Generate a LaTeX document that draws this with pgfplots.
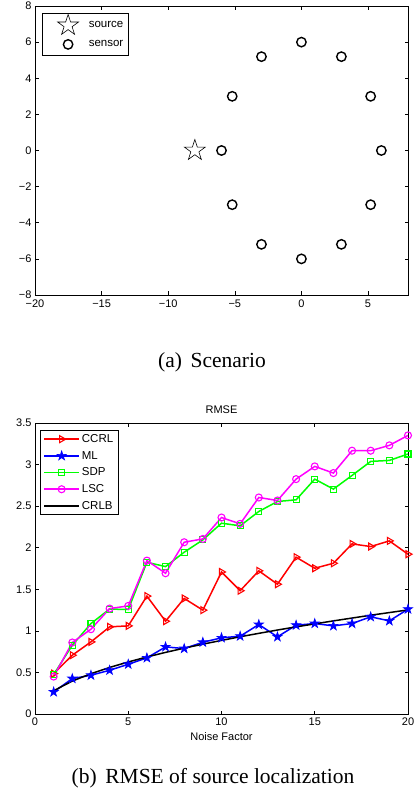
\documentclass[border=0pt]{standalone}
\usepackage{fontspec}
\setmainfont{Liberation Serif}
\setsansfont{Liberation Sans}
\usepackage{pgfplots}
\pgfplotsset{compat=1.18}

% MATLAB style pentagram, open and filled
\pgfdeclareplotmark{pentagram}{%
  \pgfpathmoveto{\pgfpointpolar{90}{\pgfplotmarksize}}%
  \pgfpathlineto{\pgfpointpolar{126}{0.382\pgfplotmarksize}}%
  \pgfpathlineto{\pgfpointpolar{162}{\pgfplotmarksize}}%
  \pgfpathlineto{\pgfpointpolar{198}{0.382\pgfplotmarksize}}%
  \pgfpathlineto{\pgfpointpolar{234}{\pgfplotmarksize}}%
  \pgfpathlineto{\pgfpointpolar{270}{0.382\pgfplotmarksize}}%
  \pgfpathlineto{\pgfpointpolar{306}{\pgfplotmarksize}}%
  \pgfpathlineto{\pgfpointpolar{342}{0.382\pgfplotmarksize}}%
  \pgfpathlineto{\pgfpointpolar{18}{\pgfplotmarksize}}%
  \pgfpathlineto{\pgfpointpolar{54}{0.382\pgfplotmarksize}}%
  \pgfpathclose
  \pgfusepathqstroke}
\pgfdeclareplotmark{pentagram*}{%
  \pgfpathmoveto{\pgfpointpolar{90}{\pgfplotmarksize}}%
  \pgfpathlineto{\pgfpointpolar{126}{0.382\pgfplotmarksize}}%
  \pgfpathlineto{\pgfpointpolar{162}{\pgfplotmarksize}}%
  \pgfpathlineto{\pgfpointpolar{198}{0.382\pgfplotmarksize}}%
  \pgfpathlineto{\pgfpointpolar{234}{\pgfplotmarksize}}%
  \pgfpathlineto{\pgfpointpolar{270}{0.382\pgfplotmarksize}}%
  \pgfpathlineto{\pgfpointpolar{306}{\pgfplotmarksize}}%
  \pgfpathlineto{\pgfpointpolar{342}{0.382\pgfplotmarksize}}%
  \pgfpathlineto{\pgfpointpolar{18}{\pgfplotmarksize}}%
  \pgfpathlineto{\pgfpointpolar{54}{0.382\pgfplotmarksize}}%
  \pgfpathclose
  \pgfusepathqfillstroke}

\definecolor{mred}{rgb}{1,0,0}
\definecolor{mblue}{rgb}{0,0,1}
\definecolor{mgreen}{rgb}{0,1,0}
\definecolor{mmag}{rgb}{1,0,1}

\pgfplotsset{
  matlab/.style={
    scale only axis,
    width=373pt,
    tick align=inside,
    major tick length=3.5pt,
    axis line style={line width=0.8pt},
    every tick/.style={black,line width=0.6pt},
    tick label style={font=\sffamily\fontsize{11}{13}\selectfont},
    label style={font=\sffamily\fontsize{11}{13}\selectfont},
    title style={font=\sffamily\fontsize{11}{13}\selectfont},
    legend style={font=\sffamily\fontsize{11.5}{13}\selectfont, draw=black, line width=0.8pt},
  }
}

\begin{document}
\begin{tikzpicture}
\useasboundingbox (0,0) rectangle (416pt,793pt);

% (a) scenario
\begin{axis}[matlab,
    at={(35pt,498pt)}, anchor=south west,
    height=289pt,
    xmin=-20, xmax=8, ymin=-8, ymax=8,
    xtick={-20,-15,-10,-5,0,5},
    xticklabels={−20,−15,−10,−5,0,5},
    xticklabel style={yshift=-1.5pt},
    ytick={-8,-6,-4,-2,0,2,4,6,8},
    yticklabels={−8,−6,−4,−2,0,2,4,6,8},
    legend style={at={(axis description cs:0,1)}, anchor=north west, xshift=7pt, yshift=-7pt,
      inner xsep=3pt, inner ysep=1pt, row sep=0pt},
    legend cell align=left,
    legend image code/.code={\draw[#1] plot coordinates {(22pt,0pt)}; \path (0pt,-9pt) (40pt,9pt);},
]
\addplot[only marks, mark=pentagram, mark size=11pt, line width=0.6pt, black] coordinates {(-8,0)};
\addlegendentry{source}
\addplot[only marks, mark=o, mark size=4.7pt, line width=1.4pt, black] coordinates {
  (6,0) (5.196,3) (3,5.196) (0,6) (-3,5.196) (-5.196,3)
  (-6,0) (-5.196,-3) (-3,-5.196) (0,-6) (3,-5.196) (5.196,-3)};
\addlegendentry{sensor}
\end{axis}
\node[font=\fontsize{21.5}{24}\selectfont] at (212pt,431pt) {(a)\hspace{0.4em}Scenario};

% (b) RMSE
\begin{axis}[matlab,
    at={(35pt,79pt)}, anchor=south west,
    height=291pt,
    xmin=0, xmax=20, ymin=0, ymax=3.5,
    xtick={0,5,10,15,20},
    xticklabels={0,5,10,15,20},
    ytick={0,0.5,1,1.5,2,2.5,3,3.5},
    yticklabels={0,0.5,1,1.5,2,2.5,3,3.5},
    title={RMSE},
    xlabel={Noise Factor},
    legend style={at={(axis description cs:0,1)}, anchor=north west, xshift=5pt, yshift=-7pt,
      inner xsep=3pt, inner ysep=2pt, row sep=3.2pt},
    legend cell align=left,
    legend image code/.code={\draw[mark repeat=2,mark phase=2,#1] plot coordinates {(0pt,0pt) (17.5pt,0pt) (35pt,0pt)};},
]
\addplot[mred, line width=1.5pt, mark=triangle, mark size=4pt, mark options={solid, rotate=-90, line width=1.1pt}] coordinates {
  (1,0.486) (2,0.707) (3,0.867) (4,1.048) (5,1.060) (6,1.418) (7,1.116)
  (8,1.390) (9,1.249) (10,1.708) (11,1.483) (12,1.722) (13,1.561) (14,1.886)
  (15,1.753) (16,1.813) (17,2.046) (18,2.014) (19,2.082) (20,1.922)};
\addlegendentry{CCRL}
\addplot[mblue, line width=1.5pt, mark=pentagram*, mark size=4.8pt, mark options={solid, fill=mblue, line width=0.7pt}] coordinates {
  (1,0.265) (2,0.426) (3,0.466) (4,0.526) (5,0.598) (6,0.675) (7,0.807)
  (8,0.787) (9,0.863) (10,0.916) (11,0.936) (12,1.076) (13,0.928) (14,1.068)
  (15,1.088) (16,1.060) (17,1.088) (18,1.169) (19,1.120) (20,1.261)};
\addlegendentry{ML}
\addplot[mgreen, line width=1.5pt, mark=square, mark size=3pt, mark options={solid, line width=1.1pt}] coordinates {
  (1,0.474) (2,0.827) (3,1.088) (4,1.262) (5,1.257) (6,1.825) (7,1.773)
  (8,1.946) (9,2.094) (10,2.295) (11,2.263) (12,2.436) (13,2.556) (14,2.576)
  (15,2.825) (16,2.705) (17,2.869) (18,3.038) (19,3.050) (20,3.127)};
\addlegendentry{SDP}
\addplot[mmag, line width=1.5pt, mark=o, mark size=3.5pt, mark options={solid, line width=1.1pt}] coordinates {
  (1,0.450) (2,0.860) (3,1.020) (4,1.268) (5,1.300) (6,1.845) (7,1.693)
  (8,2.066) (9,2.106) (10,2.363) (11,2.287) (12,2.604) (13,2.568) (14,2.825)
  (15,2.978) (16,2.898) (17,3.167) (18,3.167) (19,3.231) (20,3.351)};
\addlegendentry{LSC}
\addplot[black, no marks, line width=1.5pt] coordinates {
  (1,0.280) (2,0.396) (3,0.485) (4,0.560) (5,0.626) (6,0.686) (7,0.741)
  (8,0.792) (9,0.840) (10,0.885) (11,0.929) (12,0.970) (13,1.010) (14,1.048)
  (15,1.084) (16,1.120) (17,1.154) (18,1.188) (19,1.220) (20,1.252)};
\addlegendentry{CRLB}
\end{axis}
\node[font=\fontsize{21.5}{24}\selectfont] at (213pt,15pt) {(b)\hspace{0.4em}RMSE of source localization};
\end{tikzpicture}
\end{document}
